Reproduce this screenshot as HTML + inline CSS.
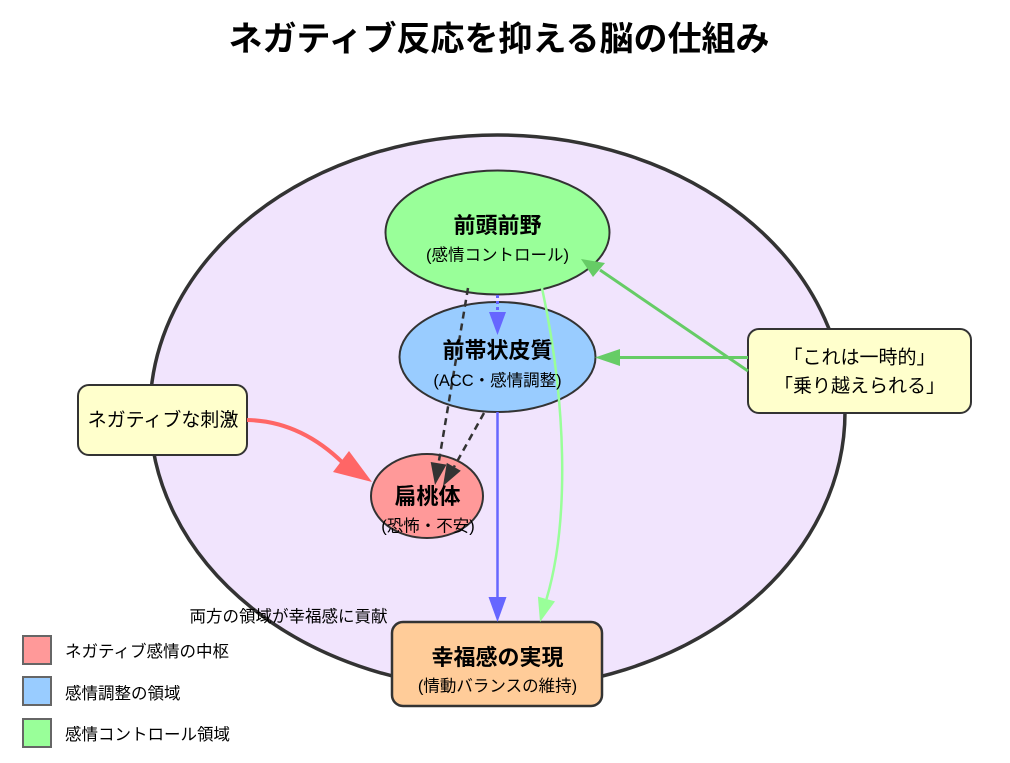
<!DOCTYPE html>
<html>
<head>
<meta charset="utf-8">
<style>
html,body{margin:0;padding:0;background:#fff;}
svg{display:block;}
text{font-family:"Liberation Sans","Noto Sans CJK JP",sans-serif;fill:#000;}
.b{font-weight:bold;}
</style>
</head>
<body>
<svg width="1010" height="763" viewBox="0 0 1010 763" xmlns="http://www.w3.org/2000/svg">
  <rect x="0" y="0" width="1010" height="763" fill="#fff"/>
  <text x="499" y="50.5" font-size="34" class="b" text-anchor="middle">ネガティブ反応を抑える脳の仕組み</text>

  <!-- big ellipse -->
  <ellipse cx="497.5" cy="412" rx="347.5" ry="277" fill="#f1e4fd" stroke="#333" stroke-width="3.5"/>

  <!-- nodes -->
  <ellipse cx="497.5" cy="232.5" rx="112" ry="62" fill="#99ff99" stroke="#333" stroke-width="2"/>
  <ellipse cx="497.5" cy="357" rx="98" ry="55" fill="#99ccff" stroke="#333" stroke-width="2"/>
  <ellipse cx="427" cy="496" rx="56" ry="42" fill="#ff9999" stroke="#333" stroke-width="2"/>
  <rect x="392" y="622" width="210" height="84" rx="11" fill="#ffcc99" stroke="#333" stroke-width="2.5"/>
  <rect x="748" y="329" width="223" height="84" rx="11" fill="#ffffcc" stroke="#333" stroke-width="2"/>
  <rect x="78" y="385" width="169" height="70" rx="11" fill="#ffffcc" stroke="#333" stroke-width="2"/>

  <!-- edges -->
  <line x1="497.5" y1="295" x2="497.5" y2="313" stroke="#6666ff" stroke-width="3" stroke-dasharray="3,3"/>
  <polygon points="489,312 506,312 497.5,335" fill="#6666ff"/>

  <line x1="468" y1="288" x2="438.6" y2="463" stroke="#333" stroke-width="2.5" stroke-dasharray="7,5"/>
  <polygon points="446.5,464.6 430.7,462 435,485" fill="#333"/>
  <line x1="484" y1="413" x2="454" y2="467" stroke="#333" stroke-width="2.5" stroke-dasharray="7,5"/>
  <polygon points="460.8,470.7 446.8,462.9 443,486" fill="#333"/>

  <line x1="497.5" y1="412" x2="497.5" y2="599" stroke="#6666ff" stroke-width="2.5"/>
  <polygon points="488.5,597 506.5,597 497.5,622" fill="#6666ff"/>

  <path d="M542,288 C566,400 570,520 546.5,599" fill="none" stroke="#99ff99" stroke-width="2.5"/>
  <polygon points="555,601.4 537.9,596.6 540,622" fill="#99ff99"/>

  <path d="M247,420 Q300,421 343,463" fill="none" stroke="#ff6666" stroke-width="4"/>
  <polygon points="333,472 349,451 372,482" fill="#ff6666"/>

  <line x1="748" y1="357.5" x2="618" y2="357.5" stroke="#66cc66" stroke-width="3"/>
  <polygon points="620,349 620,366 595,357.5" fill="#66cc66"/>
  <line x1="748" y1="371" x2="600" y2="270" stroke="#66cc66" stroke-width="3"/>
  <polygon points="605,263 593,277 581,259" fill="#66cc66"/>

  <!-- labels -->
  <text x="497.5" y="233" font-size="22" class="b" text-anchor="middle">前頭前野</text>
  <text x="497.5" y="260.5" font-size="16.5" text-anchor="middle">(感情コントロール)</text>

  <text x="497.5" y="358" font-size="22" class="b" text-anchor="middle">前帯状皮質</text>
  <text x="497.5" y="386" font-size="16.5" text-anchor="middle">(ACC・感情調整)</text>

  <text x="427.5" y="504" font-size="22" class="b" text-anchor="middle">扁桃体</text>
  <text x="428" y="531.5" font-size="16.5" text-anchor="middle">(恐怖・不安)</text>

  <text x="497.5" y="665" font-size="22" class="b" text-anchor="middle">幸福感の実現</text>
  <text x="497.5" y="691.5" font-size="16.5" text-anchor="middle">(情動バランスの維持)</text>

  <text x="859.5" y="363.5" font-size="19" text-anchor="middle">「これは一時的」</text>
  <text x="859.5" y="392" font-size="19" text-anchor="middle">「乗り越えられる」</text>

  <text x="163" y="426" font-size="19" text-anchor="middle">ネガティブな刺激</text>

  <text x="288.5" y="622" font-size="16.5" text-anchor="middle">両方の領域が幸福感に貢献</text>

  <!-- legend -->
  <rect x="23" y="636" width="28" height="28" fill="#ff9999" stroke="#666" stroke-width="2"/>
  <text x="65" y="657" font-size="16.5">ネガティブ感情の中枢</text>
  <rect x="23" y="677" width="28" height="28" fill="#99ccff" stroke="#666" stroke-width="2"/>
  <text x="65" y="699" font-size="16.5">感情調整の領域</text>
  <rect x="23" y="719" width="28" height="28" fill="#99ff99" stroke="#666" stroke-width="2"/>
  <text x="65" y="740" font-size="16.5">感情コントロール領域</text>
</svg>
</body>
</html>
